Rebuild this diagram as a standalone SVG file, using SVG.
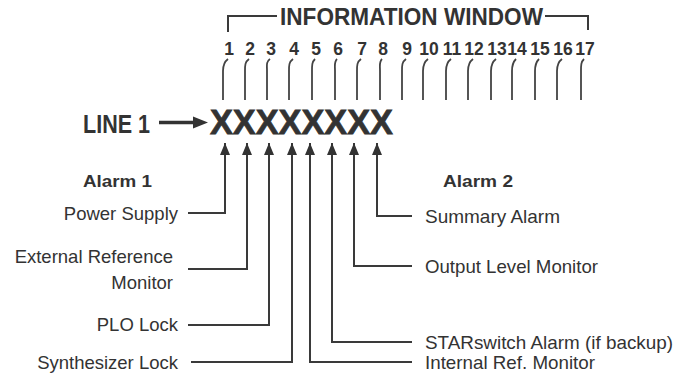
<svg xmlns="http://www.w3.org/2000/svg" width="688" height="375" viewBox="0 0 688 375">
<defs>
<style>
.t{font-family:"Liberation Sans",Arial,sans-serif;fill:#333}
.b{font-weight:bold}
.n{font-family:"Liberation Sans",Arial,sans-serif;font-weight:bold;font-size:17.5px;fill:#333;text-anchor:middle}
.l{font-size:18.5px}
.ln{fill:none;stroke:#3a3a3a;stroke-width:2}
.tk{fill:none;stroke:#444;stroke-width:1.8}
</style>
<marker id="ah" viewBox="0 0 12 10" refX="12" refY="5" markerWidth="12" markerHeight="10" markerUnits="userSpaceOnUse" orient="auto-start-reverse">
<path d="M0,0 L12,5 L0,10 Z" fill="#333"/>
</marker>
</defs>
<rect width="688" height="375" fill="#fff"/>

<g id="header">
<path class="ln" d="M228,32 V16 H277 M545,16 H588 V30"/>
<text class="t b" x="280" y="25" font-size="23" textLength="263" lengthAdjust="spacingAndGlyphs">INFORMATION WINDOW</text>
</g>

<g id="positions">
<text class="n" x="229" y="55">1</text>
<text class="n" x="250" y="55">2</text>
<text class="n" x="271" y="55">3</text>
<text class="n" x="294" y="55">4</text>
<text class="n" x="316" y="55">5</text>
<text class="n" x="338" y="55">6</text>
<text class="n" x="362" y="55">7</text>
<text class="n" x="383" y="55">8</text>
<text class="n" x="407" y="55">9</text>
<text class="n" x="429" y="55">10</text>
<text class="n" x="452" y="55">11</text>
<text class="n" x="474" y="55">12</text>
<text class="n" x="497" y="55">13</text>
<text class="n" x="517" y="55">14</text>
<text class="n" x="540" y="55">15</text>
<text class="n" x="563" y="55">16</text>
<text class="n" x="585" y="55">17</text>
<path class="tk" d="M228,59 C224,62 223,65 223,71 V100 M249,59 C245,62 245,65 245,71 V100 M270,59 C266,62 267,65 267,71 V100 M293,59 C289,62 289,65 289,71 V100 M315,59 C312,62 312,65 312,71 V100 M337,59 C334,62 335,65 335,71 V100 M361,59 C357,62 357,65 357,71 V100 M382,59 C379,62 380,65 380,71 V100 M406,59 C402,62 402,65 402,71 V100 M428,59 C424,62 423,65 423,71 V100 M451,59 C447,62 446,65 446,71 V100 M473,59 C469,62 468,65 468,71 V100 M496,59 C492,62 491,65 491,71 V100 M516,59 C513,62 512,65 512,71 V100 M539,59 C536,62 535,65 535,71 V100 M562,59 C558,62 557,65 557,71 V100 M584,59 C581,62 581,65 581,71 V100"/>
</g>

<g id="line1">
<text class="t b" x="83" y="133" font-size="25" textLength="67" lengthAdjust="spacingAndGlyphs">LINE 1</text>
<path d="M159,122.5 H195" stroke="#333" stroke-width="3.5" fill="none"/>
<path d="M193,116.5 L208,122.5 L193,128.5 Z" fill="#333"/>
<text class="t b" x="210" y="134" font-size="35" textLength="183" lengthAdjust="spacingAndGlyphs" stroke="#333" stroke-width="0.8">XXXXXXXX</text>
</g>

<g id="alarm1-title"><text class="t b" x="83" y="187" font-size="17" textLength="69" lengthAdjust="spacingAndGlyphs">Alarm 1</text></g>
<g id="alarm2-title"><text class="t b" x="443" y="187" font-size="17" textLength="70" lengthAdjust="spacingAndGlyphs">Alarm 2</text></g>

<g id="connectors">
<path class="ln" marker-start="url(#ah)" d="M225,143 V213 H188"/>
<path class="ln" marker-start="url(#ah)" d="M247,143 V269 H188"/>
<path class="ln" marker-start="url(#ah)" d="M269,143 V325 H188"/>
<path class="ln" marker-start="url(#ah)" d="M292,143 V362 H191"/>
<path class="ln" marker-start="url(#ah)" d="M310,143 V362 H412"/>
<path class="ln" marker-start="url(#ah)" d="M332,143 V342 H412"/>
<path class="ln" marker-start="url(#ah)" d="M354,143 V266 H412"/>
<path class="ln" marker-start="url(#ah)" d="M377,143 V216 H412"/>
</g>

<g id="power-supply"><text class="t l" x="178" y="220" text-anchor="end">Power Supply</text></g>
<g id="ext-ref"><text class="t l" x="173" y="263" text-anchor="end">External Reference</text><text class="t l" x="173" y="289" text-anchor="end">Monitor</text></g>
<g id="plo-lock"><text class="t l" x="178" y="331" text-anchor="end">PLO Lock</text></g>
<g id="synth-lock"><text class="t l" x="178" y="369" text-anchor="end">Synthesizer Lock</text></g>
<g id="summary"><text class="t l" x="425" y="223" textLength="135" lengthAdjust="spacingAndGlyphs">Summary Alarm</text></g>
<g id="output-level"><text class="t l" x="425" y="273" textLength="173" lengthAdjust="spacingAndGlyphs">Output Level Monitor</text></g>
<g id="starswitch"><text class="t l" x="425" y="349" textLength="248" lengthAdjust="spacingAndGlyphs">STARswitch Alarm (if backup)</text></g>
<g id="internal-ref"><text class="t l" x="425" y="369" textLength="170" lengthAdjust="spacingAndGlyphs">Internal Ref. Monitor</text></g>
</svg>
